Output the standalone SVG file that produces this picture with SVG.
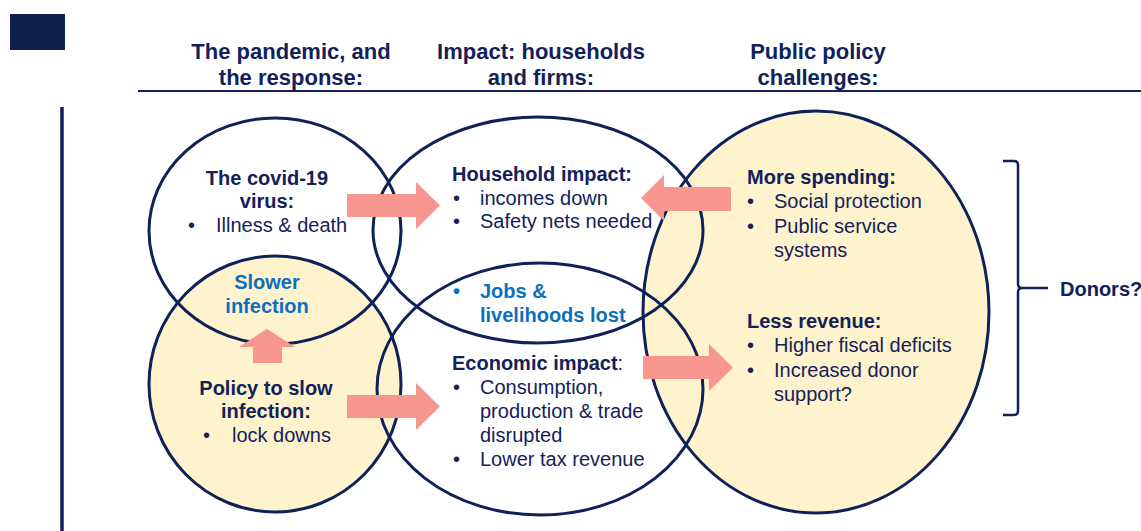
<svg xmlns="http://www.w3.org/2000/svg" width="1141" height="531" viewBox="0 0 1141 531">
<style>
.hdr{font-family:"Liberation Sans",Arial,sans-serif;font-size:22px;font-weight:bold;fill:#13215A;text-anchor:middle}
.t{font-family:"Liberation Sans",Arial,sans-serif;font-size:20px;fill:#13215A}
.b{font-weight:bold}
.blue{fill:#0B6FBF;font-weight:bold}
.ring{fill:none;stroke:#0E2158;stroke-width:3}
.wf{fill:#FFFFFF}
.yf{fill:#FEF3CD}
.arr{fill:#F6968F}
</style>
<rect x="10" y="14" width="55" height="36" fill="#10214F"/>
<line x1="138" y1="91" x2="1141" y2="91" stroke="#13215A" stroke-width="2"/>
<line x1="62" y1="107" x2="62" y2="531" stroke="#13215A" stroke-width="3.5"/>
<g id="headers">
<text class="hdr" x="291" y="59">The pandemic, and</text>
<text class="hdr" x="291" y="85">the response:</text>
<text class="hdr" x="541" y="59">Impact: households</text>
<text class="hdr" x="541" y="85">and firms:</text>
<text class="hdr" x="818" y="59">Public policy</text>
<text class="hdr" x="818" y="85">challenges:</text>
</g>
<g id="fills">
<ellipse class="wf" cx="275" cy="231" rx="126" ry="113"/>
<ellipse class="wf" cx="538" cy="230" rx="165" ry="113"/>
<ellipse class="wf" cx="540" cy="389" rx="163" ry="126"/>
<ellipse class="yf" cx="275" cy="384" rx="126" ry="128"/>
<ellipse class="yf" cx="816" cy="312" rx="173" ry="201"/>
</g>
<g id="covid-virus">
<ellipse class="ring" cx="275" cy="231" rx="126" ry="113"/>
<text class="t b" x="267" y="185" text-anchor="middle">The covid-19</text>
<text class="t b" x="267" y="208" text-anchor="middle">virus:</text>
<text class="t" x="188" y="232">•</text>
<text class="t" x="216" y="232">Illness &amp; death</text>
</g>
<g id="policy">
<ellipse class="ring" cx="275" cy="384" rx="126" ry="128"/>
<text class="t blue" x="267" y="289" text-anchor="middle">Slower</text>
<text class="t blue" x="267" y="313" text-anchor="middle">infection</text>
<text class="t b" x="266" y="395" text-anchor="middle">Policy to slow</text>
<text class="t b" x="266" y="418" text-anchor="middle">infection:</text>
<text class="t" x="203" y="442">•</text>
<text class="t" x="232" y="442">lock downs</text>
</g>
<g id="household">
<ellipse class="ring" cx="538" cy="230" rx="165" ry="113"/>
<text class="t b" x="452" y="181">Household impact:</text>
<text class="t" x="453" y="205">•</text>
<text class="t" x="480" y="205">incomes down</text>
<text class="t" x="453" y="228">•</text>
<text class="t" x="480" y="228">Safety nets needed</text>
</g>
<g id="economic">
<ellipse class="ring" cx="540" cy="389" rx="163" ry="126"/>
<text class="t blue" x="453" y="298">•</text>
<text class="t blue" x="480" y="298">Jobs &amp;</text>
<text class="t blue" x="480" y="322">livelihoods lost</text>
<text class="t" x="452" y="370"><tspan class="b">Economic impact</tspan>:</text>
<text class="t" x="453" y="394">•</text>
<text class="t" x="480" y="394">Consumption,</text>
<text class="t" x="480" y="418">production &amp; trade</text>
<text class="t" x="480" y="442">disrupted</text>
<text class="t" x="453" y="466">•</text>
<text class="t" x="480" y="466">Lower tax revenue</text>
</g>
<g id="public-policy">
<ellipse class="ring" cx="816" cy="312" rx="173" ry="201"/>
<text class="t b" x="747" y="184">More spending:</text>
<text class="t" x="747" y="208">•</text>
<text class="t" x="774" y="208">Social protection</text>
<text class="t" x="747" y="233">•</text>
<text class="t" x="774" y="233">Public service</text>
<text class="t" x="774" y="257">systems</text>
<text class="t b" x="747" y="328">Less revenue:</text>
<text class="t" x="747" y="352">•</text>
<text class="t" x="774" y="352">Higher fiscal deficits</text>
<text class="t" x="747" y="377">•</text>
<text class="t" x="774" y="377">Increased donor</text>
<text class="t" x="774" y="401">support?</text>
</g>
<g id="donors">
<path d="M1003,161 H1014 Q1018,161 1018,165 V284 Q1018,288 1022,288 H1048 M1022,288 Q1018,288 1018,292 V411 Q1018,415 1014,415 H1003" fill="none" stroke="#13215A" stroke-width="2.5"/>
<text class="t b" x="1060" y="296">Donors?</text>
</g>
<g id="connectors">
<polygon class="arr" points="347,194 416,194 416,182 440,205.5 416,229 416,217 347,217"/>
<polygon class="arr" points="731,187 664,187 664,175 641,198 664,221 664,211 731,211"/>
<polygon class="arr" points="253,363 253,347 239,347 267,329 295,347 282,347 282,363"/>
<polygon class="arr" points="347,395 416,395 416,383 440,406.5 416,430 416,418 347,418"/>
<polygon class="arr" points="643,356 709,356 709,344 733,367.5 709,391 709,379 643,379"/>
</g>
</svg>
